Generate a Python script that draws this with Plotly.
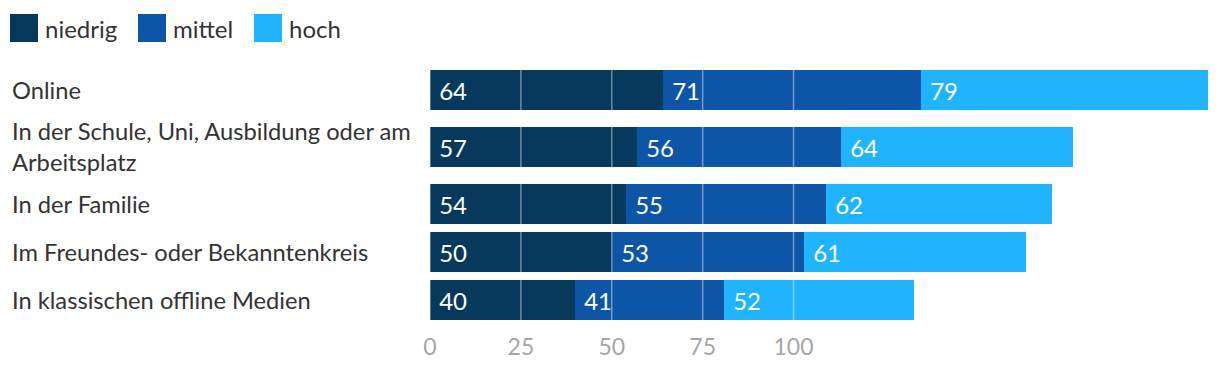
import plotly.graph_objects as go

categories = [
    "Online",
    "In der Schule, Uni, Ausbildung oder am<br>Arbeitsplatz",
    "In der Familie",
    "Im Freundes- oder Bekanntenkreis",
    "In klassischen offline Medien",
]
niedrig = [64, 57, 54, 50, 40]
mittel = [71, 56, 55, 53, 41]
hoch = [79, 64, 62, 61, 52]
series_names = ["niedrig", "mittel", "hoch"]
tick_vals = [0, 25, 50, 75, 100]
tick_text = ["0", "25", "50", "75", "100"]
colors = ["#07395d", "#0c55a7", "#20b4ff"]

FONT = "Lato"
TXT = "#333333"
FS = 24

# row positions: rows with multi-line labels take a bit more room
halves = [0.5 + 0.18 * (c.count("<br>")) for c in categories]
y_pos = []
acc = 0.0
for i, h in enumerate(halves):
    if i > 0:
        acc += halves[i - 1] + h
    y_pos.append(acc)

fig = go.Figure()
for name, vals, col in zip(series_names, [niedrig, mittel, hoch], colors):
    fig.add_trace(go.Bar(
        orientation="h", x=vals, y=y_pos, name=name, width=0.833,
        marker=dict(color=col, line=dict(width=0)),
        text=vals, texttemplate="\u00a0%{x}",
        textposition="inside", insidetextanchor="start", textangle=0,
        textfont=dict(color="white", size=FS, family=FONT),
        showlegend=False, hoverinfo="skip",
    ))

totals = [a + b + c for a, b, c in zip(niedrig, mittel, hoch)]

shapes = []
for t in tick_vals:
    shapes.append(dict(type="line", xref="x", yref="paper", x0=t, x1=t, y0=0, y1=1,
                       line=dict(color="rgba(255,255,255,0.42)", width=1.5), layer="above"))

annotations = []
for cat, y in zip(categories, y_pos):
    annotations.append(dict(text=cat, xref="paper", x=0, xshift=-420, yref="y", y=y,
                            xanchor="left", yanchor="middle", align="left", showarrow=False,
                            font=dict(family=FONT, size=FS - 0.3, color=TXT)))

# custom legend
legend_steps = [128, 116, 0]
lx = -420
for name, col, step in zip(series_names, colors, legend_steps):
    shapes.append(dict(type="rect", xref="paper", yref="paper", xsizemode="pixel", ysizemode="pixel",
                       xanchor=0, yanchor=1, x0=lx, x1=lx + 28, y0=18, y1=46,
                       fillcolor=col, line=dict(width=0)))
    annotations.append(dict(text=name, xref="paper", yref="paper", x=0, y=1, xshift=lx + 33, yshift=32,
                            xanchor="left", yanchor="middle", showarrow=False,
                            font=dict(family=FONT, size=FS, color=TXT)))
    lx += step

fig.update_layout(
    barmode="stack",
    width=1212, height=360,
    margin=dict(l=422, r=12, t=52, b=37, autoexpand=False),
    paper_bgcolor="white", plot_bgcolor="white",
    bargap=0,
    xaxis=dict(range=[0, max(totals)], tickvals=tick_vals, ticktext=tick_text,
               showgrid=False, zeroline=False, showline=False, ticks="",
               ticklabelstandoff=0, automargin=False,
               tickfont=dict(family=FONT, size=23, color="#a6a6a6")),
    yaxis=dict(range=[y_pos[-1] + 31 / 48, -30 / 48], showticklabels=False,
               showgrid=False, zeroline=False, showline=False, ticks="", automargin=False),
    shapes=shapes,
    annotations=annotations,
    showlegend=False,
    font=dict(family=FONT),
)

fig.write_html("out.html")
